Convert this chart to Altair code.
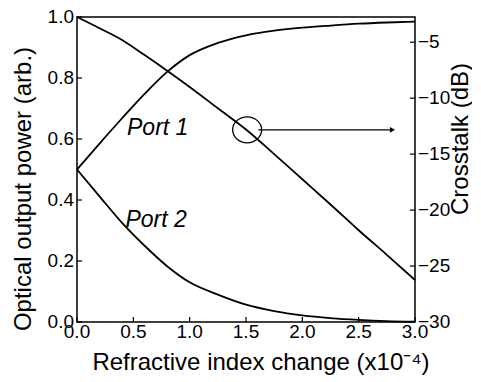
import altair as alt
import pandas as pd

# ---- data ----
x_vals = [0.0, 0.2, 0.4, 0.6, 0.8, 1.0, 1.25, 1.5, 1.75, 2.0, 2.25, 2.5, 2.75, 3.0]
port1 = [0.5, 0.585, 0.668, 0.748, 0.82, 0.875, 0.915, 0.94, 0.955, 0.965, 0.972, 0.978, 0.982, 0.985]
port2 = [0.5, 0.412, 0.325, 0.25, 0.183, 0.13, 0.09, 0.057, 0.036, 0.022, 0.013, 0.007, 0.003, 0.001]
crosstalk = [-2.75, -3.75, -4.8, -6.15, -7.55, -9.0, -10.9, -12.8, -15.0, -17.25, -19.5, -21.8, -24.0, -26.25]

x_ticks = [0.0, 0.5, 1.0, 1.5, 2.0, 2.5, 3.0]
left_ticks = [0.0, 0.2, 0.4, 0.6, 0.8, 1.0]
right_ticks = [-30, -25, -20, -15, -10, -5]

x_title = ["Refractive index change (x10⁻⁴)"]
left_title = ["Optical output power (arb.)"]
right_title = ["Crosstalk (dB)"]

label_text = ["Port 1", "Port 2"]
label_x = [0.444, 0.43]
label_y = [0.613, 0.311]

ellipse_x = [1.51]
ellipse_y = [0.63]
arrow_x = [1.61]
arrow_x2 = [2.80]
arrow_y = [0.63]

FONT = "Liberation Sans"
W, H = 338, 305
TICK_FS, TITLE_FS = 19, 24

xscale = alt.Scale(domain=[0, 3], nice=False, zero=False)
lscale = alt.Scale(domain=[0, 1], nice=False, zero=False)
rscale = alt.Scale(domain=[-30, -2.75], nice=False, zero=False)

curves = pd.DataFrame({"x": x_vals * 2, "y": port1 + port2,
                       "s": ["Port 1"] * len(x_vals) + ["Port 2"] * len(x_vals)})
xt = pd.DataFrame({"t": x_ticks})
lt = pd.DataFrame({"t": left_ticks})
rt = pd.DataFrame({"t": right_ticks})
labels = pd.DataFrame({"x": label_x, "y": label_y, "text": label_text})
ell = pd.DataFrame({"x": ellipse_x, "y": ellipse_y})
arr = pd.DataFrame({"x": arrow_x, "x2": arrow_x2, "y": arrow_y})
ct = pd.DataFrame({"x": x_vals, "c": crosstalk})

X = lambda f: alt.X(f, scale=xscale, axis=None)
YL = lambda f: alt.Y(f, scale=lscale, axis=None)
YR = lambda f: alt.Y(f, scale=rscale, axis=None)

lines = alt.Chart(curves).mark_line(color="black", strokeWidth=1.8,
                                    interpolate="monotone").encode(
    x=X("x:Q"), y=YL("y:Q"), detail="s:N",
)
# inward tick marks
xtick_marks = alt.Chart(xt).transform_calculate(y0="0", y1="0.016").mark_rule(
    color="black", strokeWidth=1.2).encode(x=X("t:Q"), y=YL("y0:Q"), y2="y1:Q")
ltick_marks = alt.Chart(lt).transform_calculate(x0="0", x1="0.045").mark_rule(
    color="black", strokeWidth=1.2).encode(x=X("x0:Q"), x2="x1:Q", y=YL("t:Q"))

# tick labels (text through the scales)
xtick_labels = alt.Chart(xt).mark_text(font=FONT, fontSize=TICK_FS, baseline="top",
                                       align="center", color="black", dy=1).encode(
    x=X("t:Q"), y=alt.value(H), text=alt.Text("t:Q", format=".1f"))
ltick_labels = alt.Chart(lt).mark_text(font=FONT, fontSize=TICK_FS, baseline="middle",
                                       align="right", color="black").encode(
    x=alt.value(-3), y=YL("t:Q"), text=alt.Text("t:Q", format=".1f"))

# axis titles
xt_title = alt.Chart(pd.DataFrame({"text": x_title})).mark_text(
    font=FONT, fontSize=TITLE_FS, baseline="alphabetic", align="center", color="black").encode(
    x=alt.value(184), y=alt.value(H + 48), text="text:N")
lt_title = alt.Chart(pd.DataFrame({"text": left_title})).mark_text(
    font=FONT, fontSize=TITLE_FS, baseline="alphabetic", align="center", angle=270,
    color="black").encode(x=alt.value(-46), y=alt.value(172), text="text:N")
rt_title = alt.Chart(pd.DataFrame({"text": right_title})).mark_text(
    font=FONT, fontSize=TITLE_FS, baseline="alphabetic", align="center", angle=270,
    color="black").encode(x=alt.value(W + 53), y=alt.value(122), text="text:N")

texts = alt.Chart(labels).mark_text(font=FONT, fontSize=23, fontStyle="italic",
                                    align="left", baseline="alphabetic", color="black").encode(
    x=X("x:Q"), y=YL("y:Q"), text="text:N",
)
ellipse = alt.Chart(ell).mark_point(
    shape="M -1 0 A 1 0.9 0 1 1 1 0 A 1 0.9 0 1 1 -1 0 Z",
    size=841, filled=False, color="black", strokeWidth=1.3, opacity=1,
).encode(x=X("x:Q"), y=YL("y:Q"))
arrow_line = alt.Chart(arr).mark_rule(color="black", strokeWidth=1.3).encode(
    x=X("x:Q"), x2="x2:Q", y=YL("y:Q"))
arrow_head = alt.Chart(arr).mark_point(shape="triangle-right", size=35, filled=True,
                                       color="black", opacity=1).encode(
    x=X("x2:Q"), y=YL("y:Q"))

left = alt.layer(lines, xtick_marks, ltick_marks, xtick_labels, ltick_labels,
                 xt_title, lt_title, texts, ellipse, arrow_line, arrow_head)

ct_line = alt.Chart(ct).mark_line(color="black", strokeWidth=1.8,
                                  interpolate="monotone").encode(
    x=X("x:Q"), y=YR("c:Q"))
rtick_marks = alt.Chart(rt).transform_calculate(x0="2.955", x1="3.0").mark_rule(
    color="black", strokeWidth=1.2).encode(x=X("x0:Q"), x2="x1:Q", y=YR("t:Q"))
rtick_labels = alt.Chart(rt).mark_text(font=FONT, fontSize=TICK_FS, baseline="middle",
                                       align="left", color="black").encode(
    x=alt.value(W + 3), y=YR("t:Q"), text=alt.Text("t:Q", format="d"))
right = alt.layer(ct_line, rtick_marks, rtick_labels, rt_title)

chart = alt.layer(left, right).resolve_scale(y="independent").properties(
    width=W, height=H,
    autosize=alt.AutoSizeParams(type="none"),
    padding={"left": 69, "top": 9, "right": 57, "bottom": 56},
    background="white",
).configure_view(
    stroke="black", strokeWidth=1.5
)

chart.save("out.html", embed_options={"renderer": "svg", "actions": False})
